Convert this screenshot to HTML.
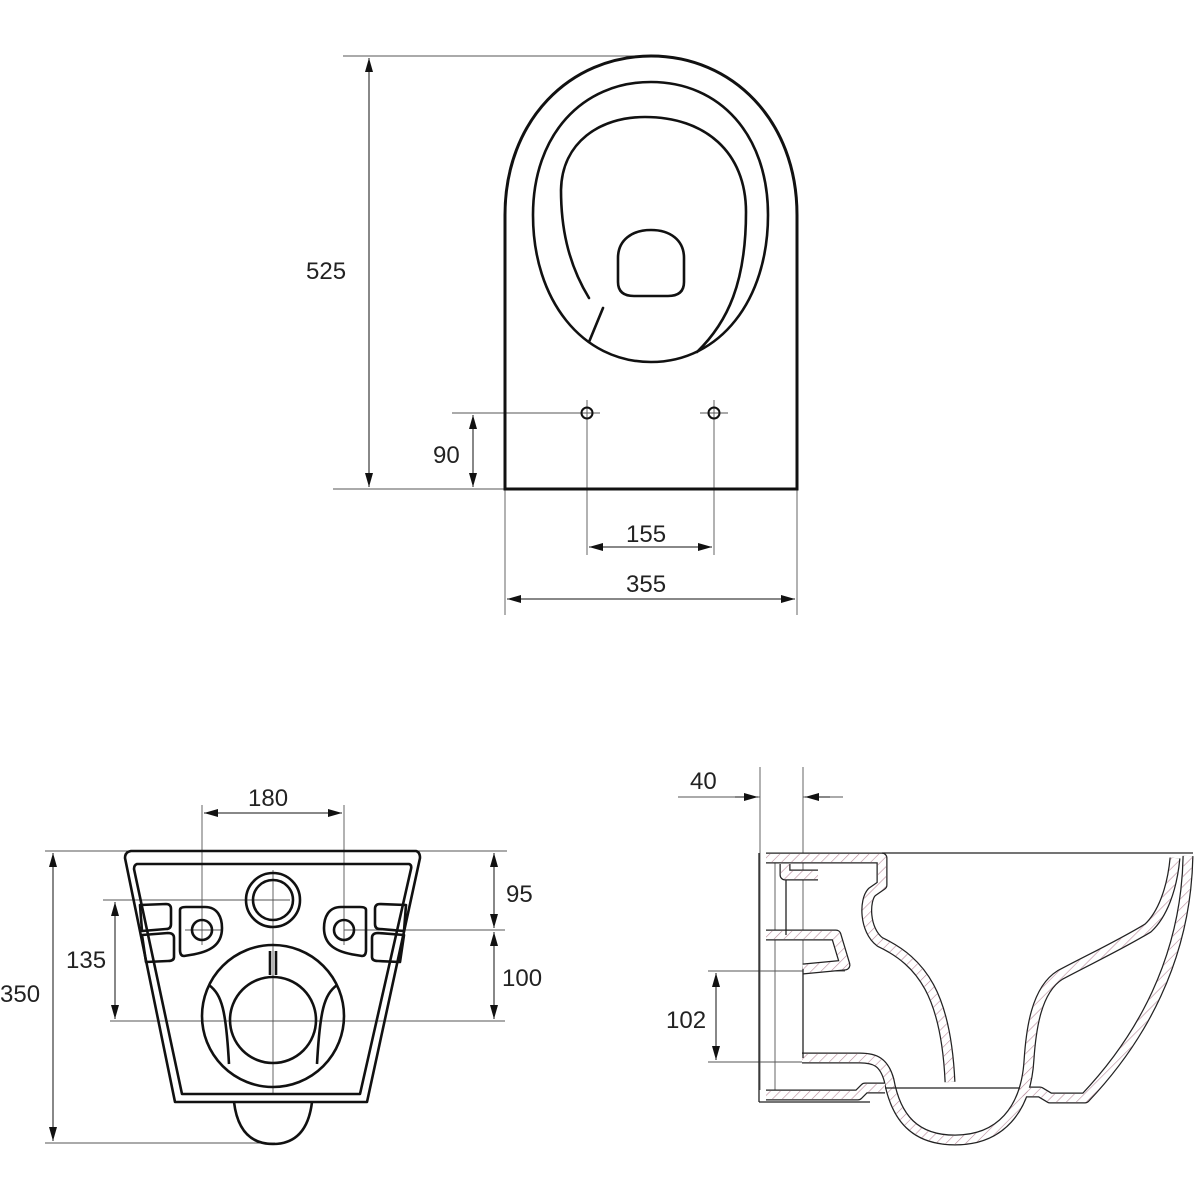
<!DOCTYPE html>
<html><head><meta charset="utf-8"><style>
html,body{margin:0;padding:0;background:#fff}
svg{display:block}
text{font-family:"Liberation Sans","DejaVu Sans",sans-serif;font-size:24px;fill:#222}
</style></head><body>
<svg width="1200" height="1200" viewBox="0 0 1200 1200" xmlns="http://www.w3.org/2000/svg">
<defs>
<marker id="a" viewBox="0 0 14 8" refX="14" refY="4" markerWidth="14" markerHeight="8" markerUnits="userSpaceOnUse" orient="auto-start-reverse"><path d="M0,0 L14,4 L0,8 Z" fill="#111"/></marker>
<pattern id="h" width="7" height="7" patternUnits="userSpaceOnUse" patternTransform="rotate(45)"><line x1="0" y1="0" x2="0" y2="7" stroke="#b8899a" stroke-width="1.2"/></pattern>
</defs>

<!-- thin dimension lines -->
<g stroke="#555" stroke-width="0.9" fill="none">
<line x1="343" y1="56" x2="651" y2="56"/>
<line x1="333" y1="489" x2="505" y2="489"/>
<line x1="452" y1="413" x2="600" y2="413"/>
<line x1="700" y1="413" x2="728" y2="413"/>
<line x1="587" y1="400" x2="587" y2="555"/>
<line x1="714" y1="400" x2="714" y2="555"/>
<line x1="505" y1="489" x2="505" y2="615"/>
<line x1="797" y1="489" x2="797" y2="615"/>
<!-- bottom left -->
<line x1="202" y1="805" x2="202" y2="945"/>
<line x1="344" y1="805" x2="344" y2="945"/>
<line x1="45" y1="851" x2="507" y2="851"/>
<line x1="45" y1="1143" x2="275" y2="1143"/>
<line x1="103" y1="900" x2="290" y2="900"/>
<line x1="110" y1="1021" x2="505" y2="1021"/>
<line x1="344" y1="930" x2="505" y2="930"/>
<line x1="185" y1="930" x2="222" y2="930"/>
<line x1="273" y1="870" x2="273" y2="1095"/>
<!-- bottom right -->
<line x1="760" y1="767" x2="760" y2="1090"/>
<line x1="775" y1="860" x2="775" y2="1090"/>
<line x1="803" y1="767" x2="803" y2="1060"/>
<line x1="678" y1="797" x2="760" y2="797"/>
<line x1="803" y1="797" x2="843" y2="797"/>
<line x1="708" y1="971" x2="845" y2="971"/>
<line x1="708" y1="1062" x2="880" y2="1062"/>
</g>
<g stroke="#111" stroke-width="1" fill="none">
<line x1="369" y1="58" x2="369" y2="487" marker-start="url(#a)" marker-end="url(#a)"/>
<line x1="473" y1="415" x2="473" y2="487" marker-start="url(#a)" marker-end="url(#a)"/>
<line x1="589" y1="547" x2="712" y2="547" marker-start="url(#a)" marker-end="url(#a)"/>
<line x1="507" y1="599" x2="795" y2="599" marker-start="url(#a)" marker-end="url(#a)"/>
<line x1="204" y1="813" x2="342" y2="813" marker-start="url(#a)" marker-end="url(#a)"/>
<line x1="53" y1="853" x2="53" y2="1141" marker-start="url(#a)" marker-end="url(#a)"/>
<line x1="115" y1="902" x2="115" y2="1019" marker-start="url(#a)" marker-end="url(#a)"/>
<line x1="494" y1="853" x2="494" y2="928" marker-start="url(#a)" marker-end="url(#a)"/>
<line x1="494" y1="932" x2="494" y2="1019" marker-start="url(#a)" marker-end="url(#a)"/>
<line x1="716" y1="973" x2="716" y2="1060" marker-start="url(#a)" marker-end="url(#a)"/>
<line x1="735" y1="797" x2="758" y2="797" marker-end="url(#a)"/>
<line x1="830" y1="797" x2="805" y2="797" marker-end="url(#a)"/>
</g>

<text x="306" y="279">525</text>
<text x="433" y="463">90</text>
<text x="626" y="542">155</text>
<text x="626" y="592">355</text>
<text x="248" y="806">180</text>
<text x="0" y="1002">350</text>
<text x="66" y="968">135</text>
<text x="506" y="902">95</text>
<text x="502" y="986">100</text>
<text x="690" y="789">40</text>
<text x="666" y="1028">102</text>

<!-- top view -->
<g stroke="#111" stroke-width="2.6" fill="none" stroke-linecap="round">
<path d="M505,489 L505,215 C505,120 570,56 651,56 C732,56 797,120 797,215 L797,489 Z" stroke-width="3"/>
<path d="M651,82 C720,82 768,135 768,215 C768,300 720,362 651,362 C582,362 533,300 533,215 C533,135 582,82 651,82 Z"/>
<path d="M589,298 C567,262 561,225 561,190 C562,142 600,117 645,117 C705,117 746,152 746,212 C746,282 728,322 697,352"/>
<line x1="603" y1="308" x2="589" y2="342"/>
<path d="M618,270 L618,258 C618,240 632,230 651,230 C670,230 684,240 684,258 L684,282 C684,292 678,296 668,296 L634,296 C624,296 618,292 618,282 Z"/>
<circle cx="587" cy="413" r="5.5" stroke-width="2"/>
<circle cx="714" cy="413" r="5.5" stroke-width="2"/>
</g>

<!-- bottom-left front view -->
<g stroke="#111" stroke-width="2.6" fill="none" stroke-linejoin="round">
<path d="M131,851 L416,851 Q420,852 420,858 L367,1102 L175,1102 L125,858 Q125,852 131,851 Z"/>
<path d="M137,864 L409,864 Q412,865 411,869 L360,1094 L182,1094 L134,869 Q134,865 137,864 Z"/>
<path d="M234,1102 C238,1135 255,1144 273,1144 C291,1144 308,1135 312,1102"/>
<circle cx="273" cy="900" r="27"/>
<circle cx="273" cy="900" r="20"/>
<path d="M180,910 Q180,907 186,907 L205,907 C218,907 222,918 222,928 C222,945 210,952 190,955 L184,956 Q180,956 180,950 Z"/>
<path d="M366,910 Q366,907 360,907 L341,907 C328,907 324,918 324,928 C324,945 336,952 356,955 L362,956 Q366,956 366,950 Z"/>
<circle cx="202" cy="930" r="10"/>
<circle cx="344" cy="930" r="10"/>
<path d="M140,905 L166,904 Q171,904 171,909 L171,924 Q171,929 166,929 L142,931 Z"/>
<path d="M142,935 L168,933 Q174,933 174,938 L174,957 Q174,961 168,961 L146,962 Z"/>
<path d="M406,905 L380,904 Q375,904 375,909 L375,924 Q375,929 380,929 L404,931 Z"/>
<path d="M404,935 L378,933 Q372,933 372,938 L372,957 Q372,961 378,961 L400,962 Z"/>
<circle cx="273" cy="1016" r="71"/>
<circle cx="273" cy="1020" r="43"/>
<path d="M209,985 C222,995 226,1010 229,1064"/>
<path d="M337,985 C324,995 320,1010 317,1064"/>
<path d="M270,951 L270,975 M276,951 L276,975"/>
</g>

<!-- bottom-right section view -->
<g fill="none" stroke-linejoin="round" stroke-linecap="butt">
<g id="walls">
<path d="M1188,856 C1186,960 1140,1040 1085,1098 L1050,1098 L1040,1092 L1020,1092"/>
<path d="M1175,858 C1172,890 1162,915 1148,928 C1120,945 1088,960 1060,975 C1036,990 1031,1030 1029,1060 C1026,1110 1000,1140 955,1140 C915,1140 896,1118 889,1080 C884,1062 875,1058 860,1058 L802,1058"/>
<path d="M763,1095 L858,1095 L865,1088 L885,1088"/>
<path d="M763,858 L882,858 L882,885 L872,892 C864,900 864,930 880,942 C922,962 946,995 950,1082"/>
<path d="M763,935 L836,935 L845,965 L803,969"/>
<path d="M785,864 L785,875 L818,875"/>
</g>
</g>
<g fill="none" stroke-linejoin="round">
<g stroke="#222" stroke-width="11">
<path d="M1188,856 C1186,960 1140,1040 1085,1098 L1050,1098 L1040,1092 L1020,1092"/>
<path d="M1175,858 C1172,890 1162,915 1148,928 C1120,945 1088,960 1060,975 C1036,990 1031,1030 1029,1060 C1026,1110 1000,1140 955,1140 C915,1140 896,1118 889,1080 C884,1062 875,1058 860,1058 L802,1058"/>
<path d="M766,1095 L858,1095 L865,1088 L885,1088"/>
<path d="M766,858 L882,858 L882,885 L872,892 C864,900 864,930 880,942 C922,962 946,995 950,1082"/>
<path d="M766,935 L836,935 L845,965 L803,969"/>
<path d="M785,864 L785,875 L818,875"/>
</g>
<g stroke="#fff" stroke-width="8.5">
<path d="M1188,856 C1186,960 1140,1040 1085,1098 L1050,1098 L1040,1092 L1020,1092"/>
<path d="M1175,858 C1172,890 1162,915 1148,928 C1120,945 1088,960 1060,975 C1036,990 1031,1030 1029,1060 C1026,1110 1000,1140 955,1140 C915,1140 896,1118 889,1080 C884,1062 875,1058 860,1058 L802,1058"/>
<path d="M766,1095 L858,1095 L865,1088 L885,1088"/>
<path d="M766,858 L882,858 L882,885 L872,892 C864,900 864,930 880,942 C922,962 946,995 950,1082"/>
<path d="M766,935 L836,935 L845,965 L803,969"/>
<path d="M785,864 L785,875 L818,875"/>
</g>
<g stroke="url(#h)" stroke-width="8.5">
<path d="M1188,856 C1186,960 1140,1040 1085,1098 L1050,1098 L1040,1092 L1020,1092"/>
<path d="M1175,858 C1172,890 1162,915 1148,928 C1120,945 1088,960 1060,975 C1036,990 1031,1030 1029,1060 C1026,1110 1000,1140 955,1140 C915,1140 896,1118 889,1080 C884,1062 875,1058 860,1058 L802,1058"/>
<path d="M766,1095 L858,1095 L865,1088 L885,1088"/>
<path d="M766,858 L882,858 L882,885 L872,892 C864,900 864,930 880,942 C922,962 946,995 950,1082"/>
<path d="M766,935 L836,935 L845,965 L803,969"/>
<path d="M785,864 L785,875 L818,875"/>
</g>
<g stroke="#222" stroke-width="1.3">
<line x1="882" y1="853" x2="1193" y2="853"/>
<line x1="759" y1="853" x2="759" y2="1102"/>
<line x1="759" y1="1102" x2="870" y2="1102"/>
<line x1="786" y1="880" x2="786" y2="935"/>
<line x1="803" y1="969" x2="803" y2="1058"/>
<line x1="885" y1="1088" x2="1020" y2="1088"/>
</g>
</g>
</svg>
</body></html>
